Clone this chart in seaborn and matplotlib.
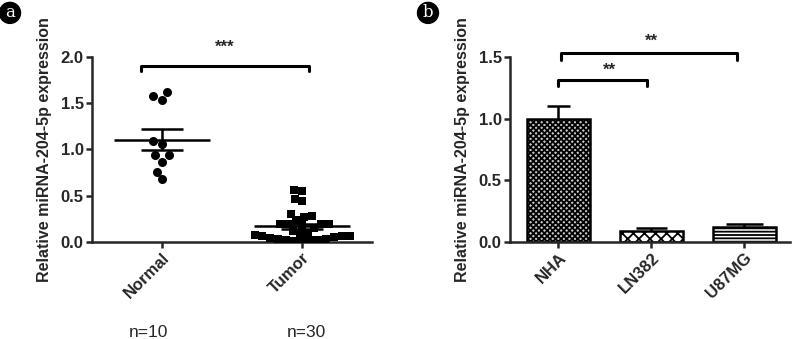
import numpy as np
import pandas as pd
import matplotlib
matplotlib.use('Agg')
import matplotlib.pyplot as plt
import matplotlib.transforms as mtransforms
import seaborn as sns

# panel a: individual samples
groups = ['Normal', 'Tumor']
group_n = ['n=10', 'n=30']
normal_vals = [1.58, 1.54, 1.62, 1.06, 1.09, 0.94, 0.94, 0.87, 0.76, 0.68]
tumor_vals = [0.56, 0.55, 0.47, 0.44, 0.30, 0.28, 0.27, 0.24, 0.20, 0.20,
              0.20, 0.19, 0.18, 0.15, 0.12, 0.10, 0.09, 0.08, 0.07, 0.07,
              0.06, 0.05, 0.04, 0.03, 0.03, 0.02, 0.02, 0.02, 0.01, 0.01]

# panel b: cell lines
cells = ['NHA', 'LN382', 'U87MG']
cell_means = [1.00, 0.09, 0.12]
cell_errs = [0.10, 0.02, 0.03]

ylabel = 'Relative miRNA-204-5p expression'

sns.set_style('ticks')
plt.rcParams['font.family'] = ['Liberation Sans', 'DejaVu Sans']
plt.rcParams['hatch.linewidth'] = 1.3

fig = plt.figure(figsize=(8, 3.39), dpi=100)
ax1 = fig.add_axes([0.115, 0.286, 0.35, 0.546])
ax2 = fig.add_axes([0.6375, 0.286, 0.35, 0.546])

lw = 1.8

# ---- panel a ----
df_n = pd.DataFrame({'group': 'Normal', 'value': normal_vals})
df_t = pd.DataFrame({'group': 'Tumor', 'value': tumor_vals})
sns.swarmplot(data=df_n, x='group', y='value', order=groups, color='black',
              marker='o', size=6.5, ax=ax1)
sns.swarmplot(data=df_t, x='group', y='value', order=groups, color='black',
              marker='s', size=5.5, ax=ax1)

for i, vals in enumerate([normal_vals, tumor_vals]):
    v = np.array(vals)
    m = v.mean()
    se = v.std(ddof=1) / np.sqrt(len(v))
    ax1.hlines(m, i - 0.34, i + 0.34, color='black', lw=lw, zorder=4)
    ax1.hlines([m - se, m + se], i - 0.15, i + 0.15, color='black', lw=lw, zorder=4)
    ax1.vlines(i, m - se, m + se, color='black', lw=lw, zorder=4)

ax1.set_xlim(-0.5, 1.5)
ax1.set_ylim(0, 2.0)
ax1.set_yticks([0, 0.5, 1.0, 1.5, 2.0])
ax1.set_yticklabels(['0.0', '0.5', '1.0', '1.5', '2.0'], fontweight='bold')
ax1.set_xticks(range(len(groups)))
ax1.set_xticklabels(groups, rotation=45, ha='right', rotation_mode='anchor',
                    fontweight='bold', fontsize=12)

# significance bracket
ax1.plot([-0.15, -0.15, 1.05, 1.05], [1.85, 1.90, 1.90, 1.85], color='black',
         lw=2.2, clip_on=False)
ax1.text(0.45, 2.1, '***', ha='center', va='center', fontsize=12,
         fontweight='bold')

trans = mtransforms.blended_transform_factory(ax1.transData, ax1.transAxes)
for i, lab in enumerate(group_n):
    ax1.text(i - 0.1 + 0.13 * i, -0.49, lab, transform=trans, ha='center',
             va='center', fontsize=12.5)

# ---- panel b ----
df_b = pd.DataFrame({'cell': cells, 'value': cell_means})
sns.barplot(data=df_b, x='cell', y='value', order=cells, color='white',
            edgecolor='black', linewidth=lw, width=0.68, errorbar=None, ax=ax2)
hatches = ['xxxxxx', 'xxx', '-----']
for bar, h in zip(ax2.patches, hatches):
    bar.set_hatch(h)
    bar.set_facecolor('white')
ax2.patches[0].set_facecolor('#c8c8c8')

caps = [0.12, 0.17, 0.2]
for i in range(len(cells)):
    top = cell_means[i] + cell_errs[i]
    ax2.vlines(i, cell_means[i], top, color='black', lw=lw, zorder=4)
    ax2.hlines(top, i - caps[i], i + caps[i], color='black', lw=lw, zorder=4)

ax2.set_xlim(-0.52, 2.49)
ax2.set_ylim(0, 1.5)
ax2.set_yticks([0, 0.5, 1.0, 1.5])
ax2.set_yticklabels(['0.0', '0.5', '1.0', '1.5'], fontweight='bold')
ax2.set_xticks(range(len(cells)))
ax2.set_xticklabels(cells, rotation=45, ha='right', rotation_mode='anchor',
                    fontweight='bold', fontsize=12)

ax2.plot([0.0, 0.0, 0.95, 0.95], [1.265, 1.31, 1.31, 1.265], color='black',
         lw=2.2, clip_on=False)
ax2.text(0.55, 1.39, '**', ha='center', va='center', fontsize=12,
         fontweight='bold')
ax2.plot([0.03, 0.03, 1.92, 1.92], [1.475, 1.53, 1.53, 1.475], color='black',
         lw=2.2, clip_on=False)
ax2.text(1.0, 1.63, '**', ha='center', va='center', fontsize=12,
         fontweight='bold')

for ax in (ax1, ax2):
    sns.despine(ax=ax)
    ax.spines['left'].set_linewidth(lw)
    ax.spines['bottom'].set_linewidth(lw)
    ax.tick_params(axis='both', direction='out', length=4, width=lw,
                   labelsize=12, pad=2)
    ax.set_xlabel('')
    ax.set_ylabel(ylabel, fontsize=11.5, fontweight='bold', labelpad=6)

# panel letters
for x, letter in [(0.0125, 'a'), (0.535, 'b')]:
    fig.text(x, 0.962, letter, ha='center', va='center', color='white',
             fontsize=12, family='DejaVu Serif',
             bbox=dict(boxstyle='circle,pad=0.12', facecolor='black',
                       edgecolor='black'))

fig.savefig('out.png', dpi=100)
